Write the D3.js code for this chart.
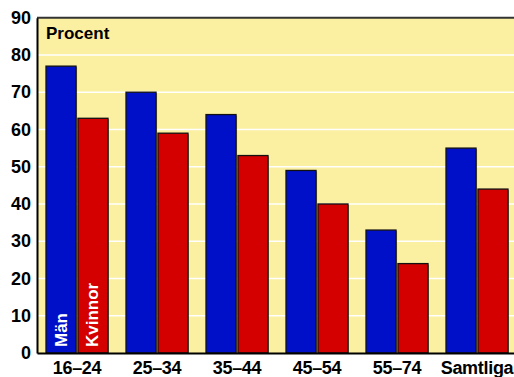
<!DOCTYPE html>
<html>
<head>
<meta charset="utf-8">
<script src="https://cdn.jsdelivr.net/npm/d3@7"></script>
<style>
html,body{margin:0;padding:0;background:#fff;}
svg{display:block;font-family:"Liberation Sans",Arial,sans-serif;font-weight:bold;}
</style>
</head>
<body>
<svg id="chart" width="514" height="377"></svg>
<script>
const categories = ["16\u201324","25\u201334","35\u201344","45\u201354","55\u201374","Samtliga"];
const seriesNames = ["Män","Kvinnor"];
const man = [77,70,64,49,33,55];
const kvinnor = [63,59,53,40,24,44];
const yTicks = [0,10,20,30,40,50,60,70,80,90];
const colors = ["#0010C8","#D40000"];

const svg = d3.select("#chart");
const L = 37, R = 517, T = 17.7, B = 353;

const x0 = d3.scaleBand().domain(categories).range([L, R]).padding(0);
const x1 = d3.scaleBand().domain(seriesNames).range([9, 71]).paddingInner(0.06).paddingOuter(0);
const y = d3.scaleLinear().domain([0,90]).range([B, T]);

// background
svg.append("rect").attr("x", L).attr("y", T).attr("width", R - L).attr("height", B - T).attr("fill", "#FBEFA1");

// gridlines
svg.append("g").selectAll("line").data(yTicks.filter(d => d > 0 && d < 90)).join("line")
  .attr("x1", L).attr("x2", R).attr("y1", d => y(d)).attr("y2", d => y(d))
  .attr("stroke", "#fff").attr("stroke-width", 1.5);

// bars
const data = categories.map((c, i) => ({cat: c, vals: [man[i], kvinnor[i]]}));
const g = svg.append("g");
data.forEach(d => {
  d.vals.forEach((v, j) => {
    const bx = x0(d.cat) + x1(seriesNames[j]);
    g.append("rect")
      .attr("x", bx + 1).attr("y", y(v) + 1)
      .attr("width", x1.bandwidth()).attr("height", B - y(v) - 1)
      .attr("fill", "#5a3a10").attr("opacity", 0.6);
    g.append("rect")
      .attr("x", bx).attr("y", y(v))
      .attr("width", x1.bandwidth()).attr("height", B - y(v))
      .attr("fill", colors[j]).attr("stroke", "#111").attr("stroke-width", 1.3);
  });
});

// in-bar series labels
seriesNames.forEach((s, j) => {
  const cx = x0(categories[0]) + x1(s) + x1.bandwidth() / 2;
  svg.append("text")
    .attr("transform", `translate(${cx},${B - 6}) rotate(-90)`)
    .attr("dominant-baseline", "central")
    .attr("fill", "#fff").attr("font-size", 17)
    .text(s);
});

// frame top
svg.append("line").attr("x1", L).attr("x2", R).attr("y1", T).attr("y2", T)
  .attr("stroke", "#333").attr("stroke-width", 2);

// axes
const yAxis = d3.axisLeft(y).tickValues(yTicks).tickSize(0).tickPadding(6);
const ya = svg.append("g").attr("transform", `translate(${L},0)`).call(yAxis);
ya.select(".domain").attr("stroke", "#000").attr("stroke-width", 2);
ya.selectAll("text").attr("font-size", 18).attr("font-family", "Liberation Sans, Arial, sans-serif").attr("font-weight", "bold").attr("fill", "#000");

const xAxis = d3.axisBottom(x0).tickSize(0).tickPadding(8);
const xa = svg.append("g").attr("transform", `translate(0,${B})`).call(xAxis);
xa.select(".domain").attr("stroke", "#000").attr("stroke-width", 2);
xa.selectAll("text").attr("font-size", 18).attr("font-family", "Liberation Sans, Arial, sans-serif").attr("font-weight", "bold").attr("fill", "#000").attr("letter-spacing", -0.3);

// unit label
svg.append("text").attr("x", 46).attr("y", 39).attr("font-size", 17).attr("fill", "#000").text("Procent");
</script>
</body>
</html>
